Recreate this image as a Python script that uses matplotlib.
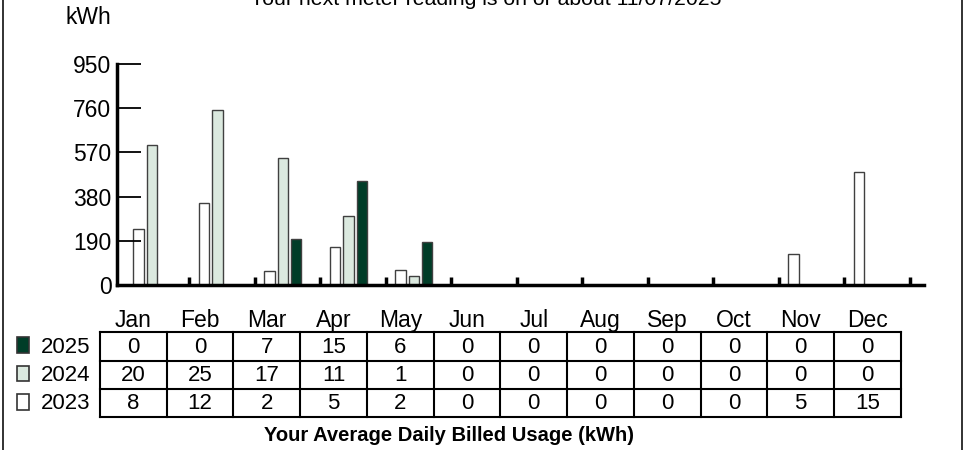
import numpy as np
import matplotlib
matplotlib.use("Agg")
from matplotlib import pyplot as plt
from matplotlib.patches import Rectangle
from matplotlib.lines import Line2D

plt.rcParams['font.family'] = ['Liberation Sans', 'DejaVu Sans']

# data
months = ["Jan", "Feb", "Mar", "Apr", "May", "Jun",
          "Jul", "Aug", "Sep", "Oct", "Nov", "Dec"]
years = ["2023", "2024", "2025"]
kwh_2023 = [242, 354, 62, 163, 66, 0, 0, 0, 0, 0, 132, 484]
kwh_2024 = [600, 752, 546, 295, 39, 0, 0, 0, 0, 0, 0, 0]
kwh_2025 = [0, 0, 199, 446, 184, 0, 0, 0, 0, 0, 0, 0]
daily_2025 = [0, 0, 7, 15, 6, 0, 0, 0, 0, 0, 0, 0]
daily_2024 = [20, 25, 17, 11, 1, 0, 0, 0, 0, 0, 0, 0]
daily_2023 = [8, 12, 2, 5, 2, 0, 0, 0, 0, 0, 5, 15]
yticks = [0, 190, 380, 570, 760, 950]

colors = {"2023": "#ffffff", "2024": "#dbe9df", "2025": "#003d28"}

W, H = 968, 450
fig = plt.figure(figsize=(W / 100, H / 100), dpi=100)


def px_axes(left, top, right, bottom):
    return fig.add_axes([left / W, 1 - bottom / H, (right - left) / W, (bottom - top) / H])


# ---- bar chart
ax = px_axes(117, 64, 924, 285)
x = np.arange(12)
bw = 0.155
series = [("2023", kwh_2023), ("2024", kwh_2024), ("2025", kwh_2025)]
for i, (yr, vals) in enumerate(series):
    ax.bar(x + 0.225 + i * 0.205, vals, width=bw, color=colors[yr],
           edgecolor="#404040", linewidth=1.0, zorder=1)

ax.set_xlim(-0.104, 12.217)
ax.set_ylim(0, 950)
ax.set_yticks(yticks)
ax.set_yticklabels([str(v) for v in yticks], fontsize=16.5)
ax.set_xticks(np.arange(1, 13))
ax.set_xticklabels([])
ax.tick_params(axis='y', direction='in', length=17, width=1.3, pad=4, color='black')
ax.tick_params(axis='x', direction='in', length=6, width=2.5, color='black')
for s in ['top', 'right']:
    ax.spines[s].set_visible(False)
ax.spines['left'].set_linewidth(2.5)
ax.spines['bottom'].set_linewidth(2.5)
ax.set_facecolor('none')

fig.text(111 / W, 1 - 17 / H, "kWh", ha='right', va='center', fontsize=16.5)
# the reference crops this line at the top edge
fig.text(486 / W, 1 - 5 / H, "Your next meter reading is on or about 11/07/2025",
         ha='center', va='baseline', fontsize=15.3)

# ---- table
tb = px_axes(100, 332.3, 900.7, 417.3)
tb.set_xlim(0, 12)
tb.set_ylim(3, 0)
tb.axis('off')
for j in range(13):
    tb.plot([j, j], [0, 3], color='black', lw=1.5, clip_on=False)
for i in range(4):
    tb.plot([0, 12], [i, i], color='black', lw=1.5, clip_on=False)

rows = [("2025", daily_2025), ("2024", daily_2024), ("2023", daily_2023)]
for i, (yr, vals) in enumerate(rows):
    for j, v in enumerate(vals):
        tb.text(j + 0.5, i + 0.52, str(v), ha='center', va='center', fontsize=16)
    tb.add_patch(Rectangle((-1.249, i + 0.18), 0.19, 0.55, facecolor=colors[yr],
                           edgecolor='#333333', lw=1.2, clip_on=False))
    tb.text(-0.885, i + 0.52, yr, ha='left', va='center', fontsize=16)

for j, m in enumerate(months):
    tb.text(j + 0.5, -0.42, m, ha='center', va='center', fontsize=16.5)

fig.text(448.7 / W, 1 - 441 / H, "Your Average Daily Billed Usage (kWh)",
         ha='center', va='baseline', fontsize=14.5, fontweight='bold')

# frame lines at the figure sides
fig.add_artist(Line2D([2.5 / W, 2.5 / W], [0, 1], color='#222222', lw=1.3))
fig.add_artist(Line2D([961.5 / W, 961.5 / W], [0, 1], color='#222222', lw=1.3))

fig.savefig("out.png", dpi=100)
